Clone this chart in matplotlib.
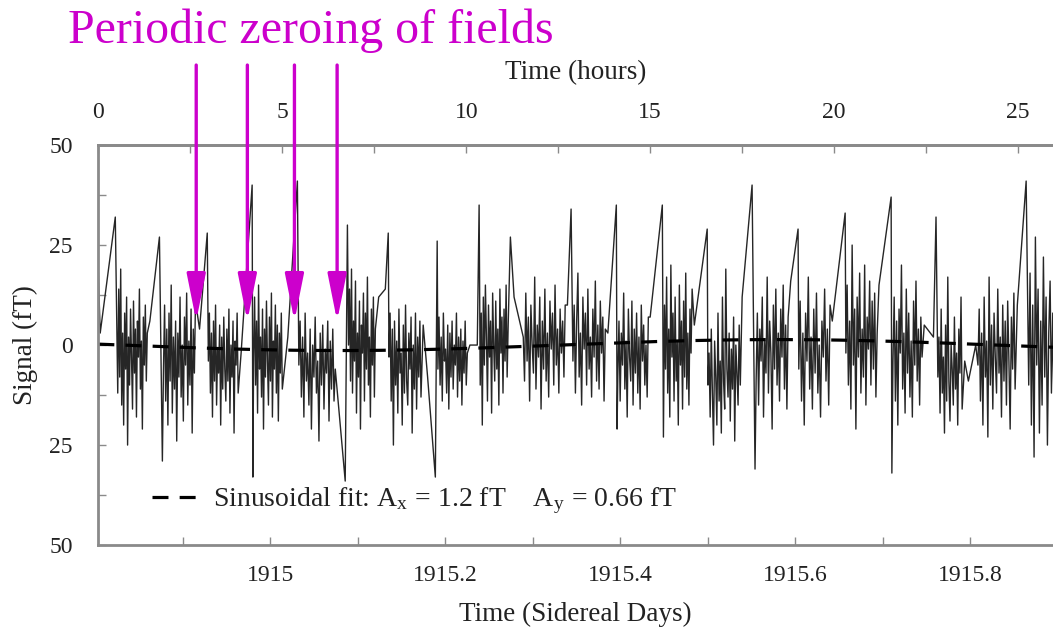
import numpy as np
import matplotlib.pyplot as plt

# time axis calibration: bottom axis in sidereal days, top axis in hours
D0 = 1914.8034
HPD = 23.78

# fit amplitudes (fT)
amp_x = 1.2
amp_y = 0.66

# times of field zeroing marked with arrows (hours)
zeroing_hours = [2.66, 4.05, 5.33, 6.49]

# data bursts between zeroings: start/end (hours) and sampled signal (fT)
burst_start = [0.50, 1.77, 2.99, 4.22, 5.45, 6.80, 7.90, 9.23, 10.38, 11.55, 12.90,
               14.12, 15.36, 16.57, 17.88, 19.04, 20.32, 21.60, 22.82, 23.91, 25.29]
burst_end = [1.33, 2.64, 3.80, 5.00, 6.44, 7.53, 8.83, 10.03, 11.14, 12.69, 13.78,
             14.95, 16.14, 17.45, 18.75, 19.89, 21.17, 22.39, 23.48, 24.92, 25.98]
burst_values = [
    [5, -12, 14, -8, 19, -15, 3, -20, 8, -6, 12, -25, 2, -10, 9, -4, -16, 11, -7, 4, -18, 6, -3, 14, -11, 1, -21, 7, -5, 10, -9, 3],
    [-6, 10, -14, 4, -20, 8, -9, 15, -17, 2, -11, 6, -24, 3, -8, 12, -13, 0, -19, 7, -5, 13, -15, 1, -10, 9, -22, 4, -7, 11],
    [-4, 8, -12, 3, -18, 6, -9, 10, -15, -1, -7, 5, -20, 2, -11, 7, -6, -14, 4, -9, 9, -17, 0, -8, 6, -22, 1, -5, 8, -12],
    [-3, 12, -10, 6, -17, 15, -6, 2, -13, 9, -21, 4, -8, 11, -4, -15, 7, -9, 13, -18, 1, -6, 10, -12, 5, -19, 3, -7, 8, -11],
    [-5, 6, -13, 2, -18, 8, -9, -2, -15, 4, -21, 0, -8, 7, -12, -4, -24, 3, -10, 5, -16, -1, -7, 6, -19, 1, -11, 4, -14, -6],
    [0, 14, -9, 19, -12, 6, -4, 16, -17, 3, -8, 11, -21, 5, -2, 13, -14, 8, -6, 17, -10, 2, -18, 9, -5, 12, -13, 4],
    [-3, 8, -14, 4, -25, 6, -10, 1, -17, 9, -7, -2, -20, 5, -12, 10, -9, -15, 3, -6, 7, -22, 0, -11, 8, -16, 2, -8, 6, -13, -4, 5],
    [-6, 7, -10, 2, -14, 8, -4, -1, -12, 5, -16, 3, -8, 6, -11, 0, -5, 8, -13, 2, -9, 4, -15, 1, -7, 6, -10, -2],
    [-10, 8, -20, 12, -5, 15, 2, -14, 10, -3, 6, -17, 13, 0, -9, 11, -6, 4, -15, 14, -2, 7, -12, 9, -4, 15, -8, 5],
    [2, -9, 13, -4, 7, -14, 10, 0, -7, 17, -11, 5, -3, 12, -16, 6, -6, 14, -9, 3, -13, 11, -1, 8, -10, 15, -5, 4, -12, 9, -2, 6, -8, 10],
    [-4, 10, -12, 6, 18, -8, 3, -15, 12, -1, 8, -10, 14, -6, 2, -13, 9, -3, 16, -9, 5, -11, 11, -2, 7, -14, 4],
    [-8, 6, -14, 3, -5, 13, -11, 1, -18, 9, -3, -9, 11, -15, 4, -7, 8, -12, 2, -16, 10, -4, 5, -10, 0, -13, 7],
    [-23, 10, -6, 17, -12, 4, -18, 20, -3, 8, -14, 12, -9, 1, -20, 15, -5, 6, -16, 11, -8, 18, -11, 3, -15, 9, -2, 14],
    [-10, -2, -18, 4, -12, -25, 1, -8, -20, 8, -14, -4, -22, 12, -9, -16, 19, -6, -13, 3, -19, -1, -11, 7, -24, 0, -7, -15, 5, -10],
    [-9, 8, -15, 4, -4, 12, -18, 1, -7, 17, -12, 6, -2, -21, 10, -6, 14, -10, 3, -14, 9, -3, 15, -11, 5, -16, 7],
    [-6, 11, -14, 3, -20, 8, -4, 17, -11, 2, -16, 9, -7, 13, -12, 0, -18, 6, -3, 14, -9, 4, -15, 10],
    [-2, 15, -10, 6, -16, 25, -5, 9, -21, 12, -3, 18, -12, 4, -8, 20, -15, 7, -1, 16, -10, 11, -6, 13, -13, 3],
    [-4, 12, -14, 6, -20, 9, -2, 20, -11, 3, -17, 14, -7, 8, -13, 1, -18, 11, -5, 16, -9, 4, -15, 7, -3],
    [-8, 2, -17, 9, -12, -3, -22, 5, -14, 17, -9, -19, 0, -6, -15, 7, -11, -2, -20, 4, -7, 12, -16],
    [-5, 9, -14, 3, -20, 12, -8, 1, -23, 17, -10, 5, -16, 8, -3, -12, 14, -7, 2, -18, 10, -9, 6, -15, 11, -4, -21, 7, -6, 13, -11],
    [-10, 18, -20, 10, -28, 27, -5, 14, -22, 6, -15, 22, -8, 12, -25, 3, 16, -12, 8, -18],
]

# isolated samples in the gaps between bursts (hours, fT)
gap_hours = [0.00, 0.05, 0.46, 1.40, 1.66, 1.74, 2.75, 2.96, 3.88, 4.18, 4.20, 5.15, 5.41,
             6.71, 6.77, 7.62, 7.80, 7.88, 8.95, 9.16, 9.21, 10.10, 10.30, 10.35, 11.20,
             11.30, 11.50, 12.75, 12.85, 13.85, 14.08, 14.10, 15.00, 15.33, 16.20, 16.55,
             17.50, 17.77, 17.85, 18.82, 19.02, 19.95, 20.30, 21.22, 21.55, 21.57, 22.45,
             22.70, 22.77, 23.55, 23.65, 23.85, 24.98, 25.22]
gap_values = [18, 3, 32, 6, 27, -29, 4, 28, -2, 40, -33, 2, 41,
              -34, 30, 12, 14, 28, -8, -33, 26, 0, 0, 35, 27,
              12, 4, 10, 34, 3, 35, -21, 7, 35, 5, 29,
              12, 40, -31, 16, 29, 6, 33, 15, 37, -32, 5,
              2, 32, -4, -9, 0, 10, 41]

hours = list(gap_hours)
signal = list(gap_values)
for t0, t1, vals in zip(burst_start, burst_end, burst_values):
    hours += list(np.linspace(t0, t1, len(vals)))
    signal += vals
order = np.argsort(hours)
hours = np.array(hours)[order]
signal = np.array(signal)[order]
days = D0 + hours / HPD

fit_days = np.linspace(D0, D0 + 26.2 / HPD, 400)
fit = -(amp_x * np.cos(2 * np.pi * fit_days) + amp_y * np.sin(2 * np.pi * fit_days))

plt.rcParams['font.family'] = 'Liberation Serif'
plt.rcParams['mathtext.fontset'] = 'stix'

fig = plt.figure(figsize=(10.53, 6.39), dpi=100)
ax = fig.add_axes([0.093, 0.147, 0.907, 0.626])
gray = '#8a8a8a'
txt = '#222222'

ax.plot(days, signal, color='#262626', linewidth=1.0)
ax.plot(fit_days, fit, color='black', linewidth=2.3, dashes=(5, 3.5),
        label=r'Sinusoidal fit: A$_\mathregular{x}$ = 1.2 fT    A$_\mathregular{y}$ = 0.66 fT')

ax.set_xlim(D0 - 0.0005, D0 + 25.95 / HPD)
ax.set_ylim(-50, 50)
ax.set_yticks([50, 25, 0, -25, -50])
ax.set_yticklabels(['50', '25', '0', '25', '50'])
ax.set_yticks(np.arange(-50, 51, 12.5), minor=True)
ax.set_xticks([1915, 1915.2, 1915.4, 1915.6, 1915.8])
ax.set_xticklabels(['1915', '1915.2', '1915.4', '1915.6', '1915.8'])
ax.set_xticks(np.arange(1914.9, 1915.9, 0.1), minor=True)

for side in ['left', 'bottom', 'top']:
    ax.spines[side].set_color(gray)
    ax.spines[side].set_linewidth(2)
ax.spines['right'].set_visible(False)
ax.tick_params(which='both', direction='in', color=gray, width=1, length=6,
               labelsize=17, labelcolor=txt, pad=14)
ax.tick_params(axis='y', pad=18)
ax.set_xlabel('Time (Sidereal Days)', fontsize=19.5, color=txt, labelpad=12)
ax.set_ylabel('Signal (fT)', fontsize=19.5, color=txt, labelpad=8)

top = ax.secondary_xaxis('top', functions=(lambda d: (d - D0) * HPD, lambda h: D0 + h / HPD))
top.set_xticks([0, 5, 10, 15, 20, 25])
top.set_xticks(np.arange(0, 26, 2.5), minor=True)
top.tick_params(which='both', direction='in', color=gray, width=1, length=6,
                labelsize=17, labelcolor=txt, pad=16)
top.spines['top'].set_color(gray)
top.spines['top'].set_linewidth(2)
top.set_xlabel('Time (hours)', fontsize=19.5, color=txt, labelpad=16)

ax.legend(loc='lower left', bbox_to_anchor=(0.03, 0.01), frameon=False,
          fontsize=20, handlelength=1.6, handletextpad=0.6, labelcolor=txt)

magenta = '#cc00cc'
for h in zeroing_hours:
    ax.annotate('', xy=(D0 + h / HPD, 6), xytext=(D0 + h / HPD, 70),
                arrowprops=dict(arrowstyle='-|>,head_length=1.15,head_width=0.23',
                                color=magenta, lw=2.4, mutation_scale=25,
                                shrinkA=0, shrinkB=0),
                annotation_clip=False)

fig.text(0.065, 1 - 43 / 639, 'Periodic zeroing of fields', color=magenta, fontsize=34.5,
         ha='left', va='baseline')

fig.savefig('out.png', dpi=100)
